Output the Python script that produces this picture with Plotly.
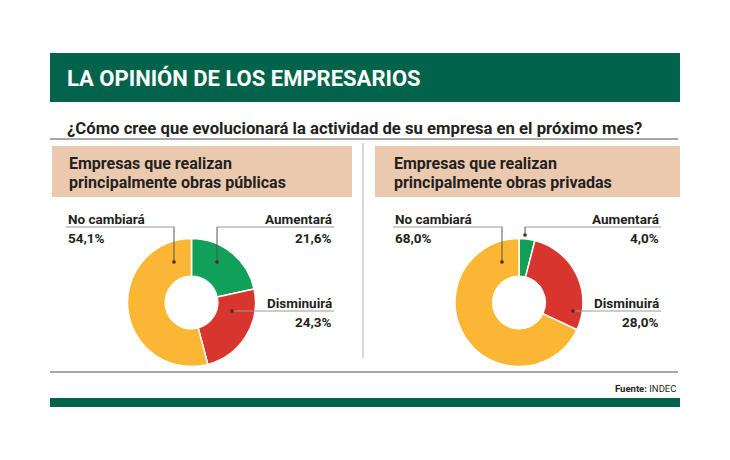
import plotly.graph_objects as go

# ---- data ----
categories = ["Aumentará", "Disminuirá", "No cambiará"]
publicas = [21.6, 24.3, 54.1]
privadas = [4.0, 28.0, 68.0]
colors = ["#10a05a", "#d7352d", "#fbb733"]

title = "LA OPINIÓN DE LOS EMPRESARIOS"
question = "¿Cómo cree que evolucionará la actividad de su empresa en el próximo mes?"
panel_titles = [["Empresas que realizan", "principalmente obras públicas"],
                ["Empresas que realizan", "principalmente obras privadas"]]
source = "<b>Fuente:</b> INDEC"

W, H = 730, 460
FONT = "Roboto, sans-serif"
DARK = "#231f20"


def fmt(v):
    return f"{v:.1f}".replace(".", ",") + "%"


def px_dom(cx, cy, r):
    return dict(x=[(cx - r) / W, (cx + r) / W], y=[(H - (cy + r)) / H, (H - (cy - r)) / H])


fig = go.Figure()
centers = [(191.5, 302.5), (519.0, 302.5)]
for vals, (cx, cy) in zip([publicas, privadas], centers):
    fig.add_trace(go.Pie(
        labels=categories, values=vals, sort=False, direction="clockwise", rotation=0,
        hole=0.41, marker=dict(colors=colors, line=dict(color="white", width=1.5)),
        textinfo="none", hoverinfo="label+percent", showlegend=False,
        domain=px_dom(cx, cy, 64),
    ))

shapes = []
ann = []


def rect(x0, y0, x1, y1, color):
    shapes.append(dict(type="rect", xref="x", yref="y", x0=x0, y0=y0, x1=x1, y1=y1,
                       fillcolor=color, line=dict(width=0), layer="below"))


def line(x0, y0, x1, y1, color="#777777", width=1):
    shapes.append(dict(type="line", xref="x", yref="y", x0=x0, y0=y0, x1=x1, y1=y1,
                       line=dict(color=color, width=width)))


def dot(x, y):
    shapes.append(dict(type="circle", xref="x", yref="y", x0=x - 1.8, y0=y - 1.8, x1=x + 1.8, y1=y + 1.8,
                       fillcolor="#4a2a20", line=dict(width=0)))


def text(x, y, s, size, color=DARK, anchor="left", bold=True):
    ann.append(dict(xref="x", yref="y", x=x, y=y, text=(f"<b>{s}</b>" if bold else s),
                    showarrow=False, xanchor=anchor, yanchor="middle",
                    font=dict(family=FONT, size=size, color=color)))


# header and footer bands
rect(50, 53, 680, 102, "#01634a")
rect(50, 398, 680, 407, "#01634a")
text(65, 78, title, 22, color="white")
text(65, 128, question, 16.7)
line(50, 139, 678, 139, "#8a8a8a", 1.5)
line(50, 372, 678, 372, "#8a8a8a", 1.5)
line(363, 143, 363, 358, "#b0b0b0", 1)
text(678, 388, source, 9.5, anchor="right", bold=False)

# panel headers
rect(52, 146, 352, 197, "#ebc9ae")
rect(375, 146, 680, 197, "#ebc9ae")
for (l1, l2), x in zip(panel_titles, [67, 392]):
    text(x, 163, l1, 16)
    text(x, 182, l2, 16)

# labels for each panel
panels = [
    dict(vals=publicas, left=66, right=334, nc_x=174, nc_y=262, au_x=217, au_y=262, di_x=232),
    dict(vals=privadas, left=393, right=661, nc_x=502, nc_y=262, au_x=525, au_y=235, di_x=573),
]
LS = 13.5
for p in panels:
    au, di, nc = p["vals"]
    # No cambiará
    text(p["left"], 218.5, categories[2], LS)
    text(p["left"], 238, fmt(nc), LS)
    line(p["left"], 227, p["nc_x"], 227, "#9a9a9a")
    line(p["nc_x"], 227, p["nc_x"], p["nc_y"], "#555555")
    dot(p["nc_x"], p["nc_y"])
    # Aumentará
    text(p["right"], 218.5, categories[0], LS, anchor="right")
    text(p["right"], 238, fmt(au), LS, anchor="right")
    line(p["au_x"], 227, p["right"], 227, "#9a9a9a")
    line(p["au_x"], 227, p["au_x"], p["au_y"], "#555555")
    dot(p["au_x"], p["au_y"])
    # Disminuirá
    text(p["right"], 302.5, categories[1], LS, anchor="right")
    text(p["right"], 322, fmt(di), LS, anchor="right")
    line(p["di_x"], 311, p["right"], 311, "#9a9a9a")
    dot(p["di_x"], 311)

fig.update_layout(
    width=W, height=H, margin=dict(l=0, r=0, t=0, b=0),
    paper_bgcolor="white", plot_bgcolor="rgba(0,0,0,0)",
    xaxis=dict(range=[0, W], visible=False, fixedrange=True),
    yaxis=dict(range=[H, 0], visible=False, fixedrange=True),
    shapes=shapes, annotations=ann,
)
fig.write_html("out.html")
